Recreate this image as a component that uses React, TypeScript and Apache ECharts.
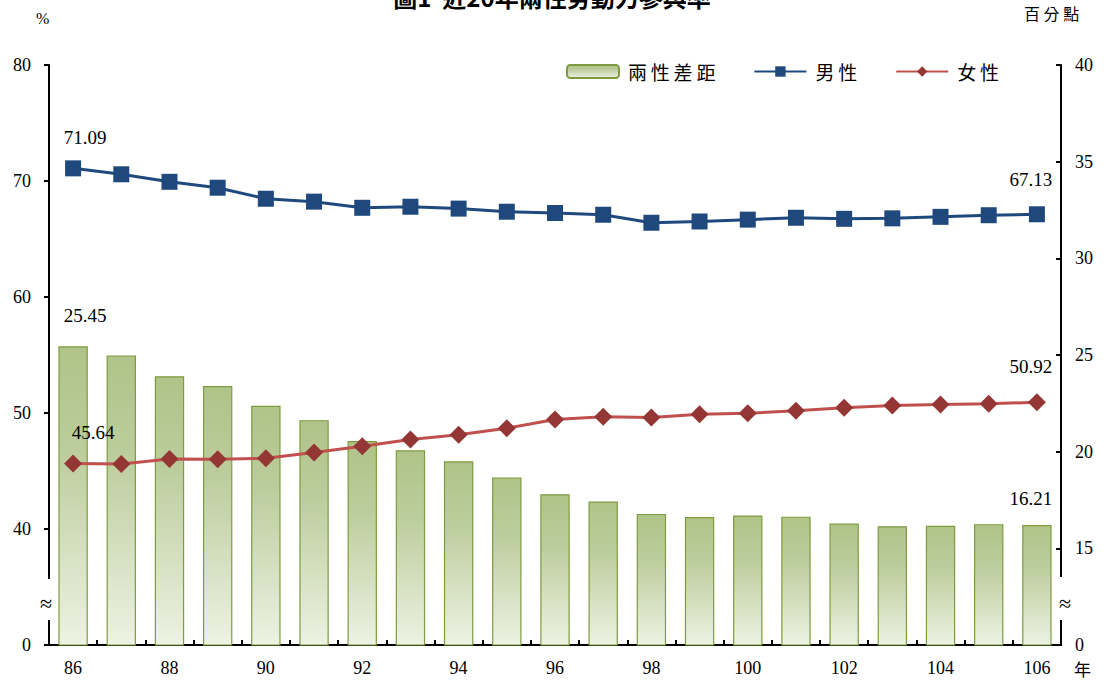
import React, { useEffect, useRef } from "react";
import * as echarts from "echarts";

const years = ["86","87","88","89","90","91","92","93","94","95","96","97","98","99","100","101","102","103","104","105","106"];
const male = [71.09,70.58,69.93,69.42,68.47,68.22,67.69,67.78,67.62,67.35,67.24,67.09,66.40,66.51,66.67,66.83,66.74,66.78,66.91,67.05,67.13];
const female = [45.64,45.60,46.03,46.02,46.10,46.59,47.14,47.71,48.12,48.68,49.44,49.67,49.62,49.89,49.97,50.19,50.46,50.64,50.74,50.80,50.92];
const gap = [25.45,24.98,23.90,23.40,22.37,21.63,20.55,20.07,19.50,18.67,17.80,17.42,16.78,16.62,16.70,16.64,16.28,16.14,16.17,16.25,16.21];

const title = "圖1  近20年兩性勞動力參與率";
const font = "'Liberation Serif', 'Times New Roman', 'Noto Sans CJK TC', serif";
const cjk = "'Noto Sans CJK TC', 'Liberation Serif', serif";

export default function App() {
  const ref = useRef<HTMLDivElement>(null);
  useEffect(() => {
    const chart = echarts.init(ref.current!, null, { renderer: "svg" });
    const last = years.length - 1;
    const lbl = (data: number[], pos: string, offset: number[], lastOffset: number[]) =>
      data.map((v, i) =>
        i === 0 || i === last
          ? { value: v, label: { show: true, position: pos, offset: i === 0 ? offset : lastOffset, formatter: v.toFixed(2), fontFamily: font, fontSize: 19, color: "#000" } }
          : v
      );
    chart.setOption({
      animation: false,
      backgroundColor: "#fff",
      grid: { left: 49, right: 43, top: 65, bottom: 37 },
      legend: {
        top: 57,
        right: 100,
        itemWidth: 52,
        itemHeight: 13,
        itemGap: 38,
        textStyle: { fontFamily: cjk, fontSize: 19, color: "#000", padding: [0, 0, 0, 4] },
        formatter: (n: string) => n.split("").join("\u2009"),
        data: ["兩性差距", "男性", "女性"],
      },
      xAxis: {
        type: "category",
        data: years,
        boundaryGap: true,
        axisLine: { lineStyle: { color: "#000", width: 2 } },
        axisTick: { show: true, inside: true, length: 5, interval: 0, lineStyle: { color: "#000", width: 2 } },
        axisLabel: { interval: 1, fontFamily: font, fontSize: 18, color: "#000", margin: 14 },
      },
      yAxis: [
        {
          type: "value",
          min: 30,
          max: 80,
          interval: 10,
          splitLine: { show: false },
          axisLine: { show: true, lineStyle: { color: "#000", width: 2 } },
          axisTick: { show: true, length: 5, lineStyle: { color: "#000", width: 2 } },
          axisLabel: { fontFamily: font, fontSize: 18, color: "#000", margin: 18, formatter: (v: number) => (v === 30 ? "0" : String(v)) },
        },
        {
          type: "value",
          min: 10,
          max: 40,
          interval: 5,
          splitLine: { show: false },
          axisLine: { show: true, lineStyle: { color: "#000", width: 2 } },
          axisTick: { show: true, inside: true, length: 5, lineStyle: { color: "#000", width: 2 } },
          axisLabel: { fontFamily: font, fontSize: 18, color: "#000", margin: 14, formatter: (v: number) => (v === 10 ? "0" : String(v)) },
        },
      ],
      series: [
        {
          name: "兩性差距",
          type: "bar",
          yAxisIndex: 1,
          barWidth: "61%",
          data: lbl(gap, "top", [12, -16], [-6, -12]),
          itemStyle: {
            borderColor: "#7d9c3e",
            borderWidth: 1.2,
            color: new echarts.graphic.LinearGradient(0, 0, 0, 1, [
              { offset: 0, color: "#b0c388" },
              { offset: 0.35, color: "#bccd9d" },
              { offset: 1, color: "#eef2e3" },
            ]),
          },
          z: 1,
        },
        {
          name: "男性",
          type: "line",
          yAxisIndex: 0,
          data: lbl(male, "top", [12, -8], [-6, -12]),
          symbol: "rect",
          symbolSize: 16,
          lineStyle: { color: "#1f497d", width: 3 },
          itemStyle: { color: "#1f497d" },
          z: 3,
        },
        {
          name: "女性",
          type: "line",
          yAxisIndex: 0,
          data: lbl(female, "top", [20, -8], [-6, -12]),
          symbol: "diamond",
          symbolSize: 18,
          lineStyle: { color: "#c0504d", width: 3 },
          itemStyle: { color: "#943634" },
          z: 3,
        },
      ],
      graphic: [
        { type: "text", left: "center", top: -16, style: { text: title, font: "bold 24px " + cjk, fill: "#000" } },
        { type: "text", left: 36, top: 10, style: { text: "%", font: "16px " + font, fill: "#000" } },
        { type: "text", left: 1024, top: 5, style: { text: "百 分 點", font: "16px " + cjk, fill: "#000" } },
        { type: "text", left: 1074, top: 660, style: { text: "年", font: "17px " + cjk, fill: "#000" } },
        { type: "rect", shape: { x: 44, y: 579, width: 10, height: 41 }, style: { fill: "#fff" }, z: 100 },
        { type: "text", x: 46, y: 603, z: 101, style: { text: "≈", font: "22px " + font, fill: "#000", align: "center", verticalAlign: "middle" } },
        { type: "rect", shape: { x: 1056, y: 577, width: 10, height: 43 }, style: { fill: "#fff" }, z: 100 },
        { type: "text", x: 1065, y: 603, z: 101, style: { text: "≈", font: "22px " + font, fill: "#000", align: "center", verticalAlign: "middle" } },
      ],
    });
    return () => chart.dispose();
  }, []);
  return <div ref={ref} style={{ width: 1104, height: 682, position: "absolute", left: 0, top: 0 }} />;
}
